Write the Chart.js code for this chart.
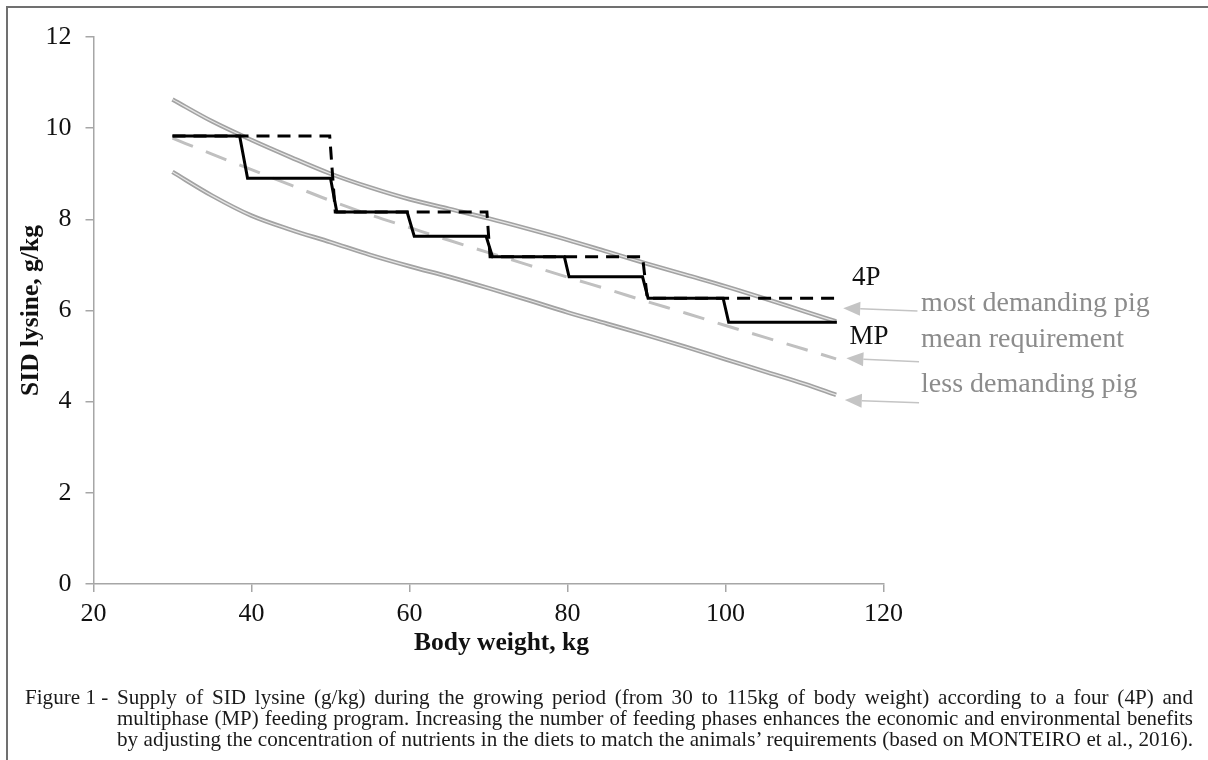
<!DOCTYPE html>
<html>
<head>
<meta charset="utf-8">
<script src="https://cdn.jsdelivr.net/npm/chart.js@4.4.1/dist/chart.umd.min.js"></script>
<style>
  html, body { margin:0; padding:0; background:#fff; }
  #wrap { position:absolute; left:0; top:0; width:1208px; height:760px; overflow:hidden; }
  #c { position:absolute; left:0; top:0; }
  #frameTop { position:absolute; left:6px; top:6px; width:1202px; height:0; border-top:2px solid #707070; }
  #frameLeft { position:absolute; left:6px; top:6px; width:0; height:754px; border-left:2px solid #707070; }
  .cap { position:absolute; font-family:"Liberation Serif","Times New Roman",serif; font-size:20px; line-height:21px; color:#1a1a1a; white-space:nowrap; }
  .line { position:absolute; left:117px; width:1076px; height:21px; text-align:justify; text-align-last:justify; white-space:normal; }
</style>
</head>
<body>
<div id="wrap">
  <canvas id="c" width="1208" height="760"></canvas>
  <div id="frameTop"></div>
  <div id="frameLeft"></div>
  <div class="cap" id="figno" style="left:25px; top:687px;">Figure 1 -</div>
  <div class="cap line" style="top:687px;">Supply of SID lysine (g/kg) during the growing period (from 30 to 115kg of body weight) according to a four (4P) and</div>
  <div class="cap line" style="top:708px;">multiphase (MP) feeding program. Increasing the number of feeding phases enhances the economic and environmental benefits</div>
  <div class="cap line" id="lastline" style="top:729px;">by adjusting the concentration of nutrients in the diets to match the animals’ requirements (based on MONTEIRO et al., 2016).</div>
</div>
<script>
// ---------- data ----------
const xTicks = [20, 40, 60, 80, 100, 120];
const yTicks = [0, 2, 4, 6, 8, 10, 12];

const bodyWeight = [30,35,40,45,50,55,60,65,70,75,80,85,90,95,100,105,110,114];
const mostDemanding = [10.63,10.15,9.74,9.36,9.0,8.7,8.44,8.23,8.02,7.79,7.55,7.29,7.03,6.78,6.53,6.26,5.98,5.76];
const meanRequirement = [9.78,9.43,9.09,8.75,8.41,8.1,7.82,7.54,7.27,7.0,6.73,6.47,6.2,5.94,5.67,5.41,5.15,4.94];
const lessDemanding = [9.04,8.52,8.08,7.77,7.5,7.22,6.97,6.74,6.49,6.23,5.96,5.71,5.46,5.2,4.93,4.66,4.39,4.15];

// multiphase (MP) program: corner points of the steps
const mpWeight = [30,38.5,39.5,50,50.8,59.7,60.6,69.7,70.5,79.6,80.2,89.5,90.2,99.7,100.4,114.1];
const mpLysine = [9.83,9.83,8.9,8.9,8.16,8.16,7.63,7.63,7.18,7.18,6.74,6.74,6.27,6.27,5.74,5.74];

// four-phase (4P) program
const fourWeight = [30,49.9,50.6,69.8,70.2,89.5,90.1,114.1];
const fourLysine = [9.83,9.83,8.16,8.16,7.18,7.18,6.27,6.27];

const programLabels = ['4P', 'MP'];
const curveLabels = ['most demanding pig', 'mean requirement', 'less demanding pig'];
const xTitle = 'Body weight, kg';
const yTitle = 'SID lysine, g/kg';

// ---------- helpers ----------
const zip = (xs, ys) => xs.map((x, i) => ({ x: x, y: ys[i] }));
const SERIF = '"Liberation Serif", "Times New Roman", serif';

// annotation placement (data coordinates)
const programPos = [ { x: 116.0, y: 6.56 }, { x: 115.7, y: 5.27 } ];
const curveLabelPos = [ { x: 124.75, y: 6.0 }, { x: 124.75, y: 5.2 }, { x: 124.75, y: 4.22 } ];
const arrowTip  = [ { x: 114.9, y: 6.05 }, { x: 115.3, y: 4.95 }, { x: 115.1, y: 4.035 } ];
const arrowTail = [ { x: 124.3, y: 5.99 }, { x: 124.5, y: 4.875 }, { x: 124.5, y: 3.975 } ];

const annotate = {
  id: 'annotate',
  afterDraw(chart) {
    const ctx = chart.ctx, xs = chart.scales.x, ys = chart.scales.y, ca = chart.chartArea;
    ctx.save();
    // program labels
    ctx.fillStyle = '#111';
    ctx.font = '27px ' + SERIF;
    ctx.textAlign = 'left';
    ctx.textBaseline = 'alphabetic';
    programLabels.forEach((t, i) => ctx.fillText(t, xs.getPixelForValue(programPos[i].x), ys.getPixelForValue(programPos[i].y)));
    // curve labels
    ctx.fillStyle = '#8c8c8c';
    ctx.font = '28px ' + SERIF;
    curveLabels.forEach((t, i) => ctx.fillText(t, xs.getPixelForValue(curveLabelPos[i].x), ys.getPixelForValue(curveLabelPos[i].y)));
    // arrows
    ctx.strokeStyle = '#c4c4c4';
    ctx.fillStyle = '#c4c4c4';
    ctx.lineWidth = 1.5;
    arrowTip.forEach((tp, i) => {
      const x1 = xs.getPixelForValue(arrowTail[i].x), y1 = ys.getPixelForValue(arrowTail[i].y);
      const x2 = xs.getPixelForValue(tp.x), y2 = ys.getPixelForValue(tp.y);
      const ang = Math.atan2(y2 - y1, x2 - x1);
      const hl = 17, hw = 7;
      const bx = x2 - hl * Math.cos(ang), by = y2 - hl * Math.sin(ang);
      ctx.beginPath(); ctx.moveTo(x1, y1); ctx.lineTo(bx, by); ctx.stroke();
      ctx.beginPath();
      ctx.moveTo(x2, y2);
      ctx.lineTo(bx + hw * Math.sin(ang), by - hw * Math.cos(ang));
      ctx.lineTo(bx - hw * Math.sin(ang), by + hw * Math.cos(ang));
      ctx.closePath(); ctx.fill();
    });
    // axis titles
    ctx.fillStyle = '#111';
    ctx.font = 'bold 25.5px ' + SERIF;
    ctx.textAlign = 'center';
    ctx.fillText(xTitle, (ca.left + ca.right) / 2 + 13, ca.bottom + 66);
    ctx.translate(38, (ca.top + ca.bottom) / 2);
    ctx.rotate(-Math.PI / 2);
    ctx.fillText(yTitle, 0, 0);
    ctx.restore();
  }
};

const gridStyle = { display: true, drawOnChartArea: false, drawTicks: true, tickLength: 8, color: '#a6a6a6', lineWidth: 1.5 };

new Chart(document.getElementById('c'), {
  type: 'line',
  data: {
    datasets: [
      { label: 'MP', data: zip(mpWeight, mpLysine), borderColor: '#000', borderWidth: 3, tension: 0, borderJoinStyle: 'miter' },
      { label: '4P', data: zip(fourWeight, fourLysine), borderColor: '#000', borderWidth: 3, borderDash: [13, 8], tension: 0 },
      { label: 'most inner', data: zip(bodyWeight, mostDemanding), borderColor: '#e6e6e6', borderWidth: 1.2, cubicInterpolationMode: 'monotone' },
      { label: 'most demanding pig', data: zip(bodyWeight, mostDemanding), borderColor: '#a3a3a3', borderWidth: 4.5, cubicInterpolationMode: 'monotone' },
      { label: 'less inner', data: zip(bodyWeight, lessDemanding), borderColor: '#e6e6e6', borderWidth: 1.2, cubicInterpolationMode: 'monotone' },
      { label: 'less demanding pig', data: zip(bodyWeight, lessDemanding), borderColor: '#a3a3a3', borderWidth: 4.5, cubicInterpolationMode: 'monotone' },
      { label: 'mean requirement', data: zip(bodyWeight, meanRequirement), borderColor: '#c0c0c0', borderWidth: 3, borderDash: [22, 14], cubicInterpolationMode: 'monotone' }
    ]
  },
  options: {
    responsive: false,
    animation: false,
    devicePixelRatio: 1,
    layout: { padding: { top: 37, right: 324.5, left: 0, bottom: 0 } },
    plugins: { legend: { display: false }, tooltip: { enabled: false }, title: { display: false } },
    elements: { point: { radius: 0 }, line: { fill: false } },
    scales: {
      x: {
        type: 'linear', min: xTicks[0], max: xTicks[xTicks.length - 1],
        afterBuildTicks: s => { s.ticks = xTicks.map(v => ({ value: v })); },
        ticks: { font: { family: SERIF, size: 26 }, color: '#111', padding: 7, maxRotation: 0, autoSkip: false },
        grid: gridStyle,
        border: { color: '#a6a6a6', width: 1.5 },
        afterFit: s => { s.height = 176; }
      },
      y: {
        type: 'linear', min: yTicks[0], max: yTicks[yTicks.length - 1],
        afterBuildTicks: s => { s.ticks = yTicks.map(v => ({ value: v })); },
        ticks: { font: { family: SERIF, size: 26 }, color: '#111', padding: 14, autoSkip: false },
        grid: gridStyle,
        border: { color: '#a6a6a6', width: 1.5 },
        afterFit: s => { s.width = 93.5; }
      }
    }
  },
  plugins: [annotate]
});

// size the caption so that its last line fills the column naturally
(function () {
  const mctx = document.createElement('canvas').getContext('2d');
  mctx.font = '20px "Liberation Serif"';
  const last = document.getElementById('lastline');
  const w = mctx.measureText(last.textContent).width;
  let size = Math.max(18, Math.min(23, 20 * 1074 / w));
  document.querySelectorAll('.cap').forEach(el => { el.style.fontSize = size + 'px'; });
  document.querySelectorAll('.line').forEach(el => {
    let s = size;
    while (el.scrollHeight > 23 && s > 12) { s -= 0.25; el.style.fontSize = s + 'px'; }
  });
})();
</script>
</body>
</html>
